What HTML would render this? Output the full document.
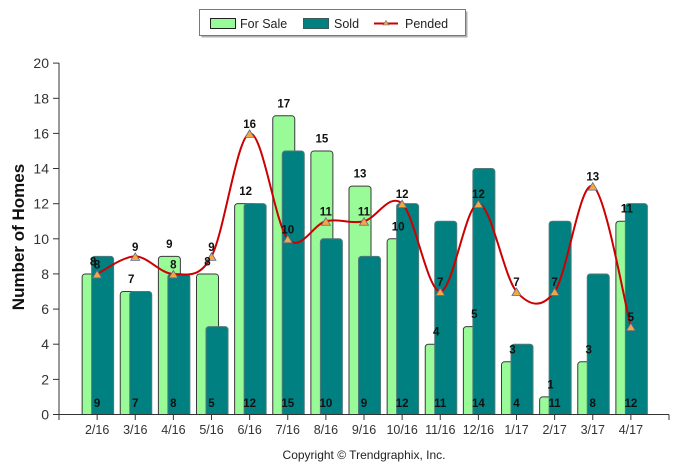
<!DOCTYPE html>
<html><head><meta charset="utf-8"><style>
html,body{margin:0;padding:0;background:#fff;}
svg{display:block;font-family:"Liberation Sans",sans-serif;}
</style></head><body>
<svg width="686" height="470" viewBox="0 0 686 470" xmlns="http://www.w3.org/2000/svg">
<defs><clipPath id="c"><rect x="0" y="0" width="686" height="414.5"/></clipPath></defs>
<rect width="686" height="470" fill="#fff"/>
<!-- legend -->
<rect x="201.5" y="11.5" width="266" height="26" fill="#b0b0b0"/>
<rect x="199.5" y="9.5" width="266" height="26" fill="#fff" stroke="#6a7a9a" stroke-width="1"/>
<rect x="210.5" y="18.5" width="25" height="10" fill="#98FB98" stroke="#222"/>
<text x="240" y="28" font-size="12.5" fill="#222">For Sale</text>
<rect x="303.5" y="18.5" width="25" height="10" fill="#008080" stroke="#3a5a5a"/>
<text x="334" y="28" font-size="12.5" fill="#222">Sold</text>
<line x1="374" y1="23.5" x2="398" y2="23.5" stroke="#cc0000" stroke-width="2"/>
<polygon points="386,20.5 383,25 389,25" fill="#F5A742" stroke="#5a6a8a" stroke-width="0.6"/>
<text x="405" y="28" font-size="12.5" fill="#222">Pended</text>
<!-- y label -->
<text transform="translate(24,237) rotate(-90)" text-anchor="middle" font-size="17" font-weight="bold" fill="#111">Number of Homes</text>
<!-- y ticks -->
<g font-size="14" fill="#333" text-anchor="end">
<text x="49" y="419.5">0</text>
<text x="49" y="384.4">2</text>
<text x="49" y="349.2">4</text>
<text x="49" y="314.1">6</text>
<text x="49" y="279">8</text>
<text x="49" y="243.8">10</text>
<text x="49" y="208.7">12</text>
<text x="49" y="173.5">14</text>
<text x="49" y="138.4">16</text>
<text x="49" y="103.3">18</text>
<text x="49" y="68.1">20</text>
</g>
<g stroke="#333" stroke-width="1">
<line x1="53" y1="414.5" x2="59" y2="414.5"/>
<line x1="53" y1="379.4" x2="59" y2="379.4"/>
<line x1="53" y1="344.2" x2="59" y2="344.2"/>
<line x1="53" y1="309.1" x2="59" y2="309.1"/>
<line x1="53" y1="273.9" x2="59" y2="273.9"/>
<line x1="53" y1="238.8" x2="59" y2="238.8"/>
<line x1="53" y1="203.7" x2="59" y2="203.7"/>
<line x1="53" y1="168.5" x2="59" y2="168.5"/>
<line x1="53" y1="133.4" x2="59" y2="133.4"/>
<line x1="53" y1="98.3" x2="59" y2="98.3"/>
<line x1="53" y1="63.1" x2="59" y2="63.1"/>
</g>
<!-- bars -->
<g clip-path="url(#c)">
<g fill="#98FB98" stroke="#3a3a3a" stroke-width="1">
<rect x="82.13" y="273.94" width="22" height="145.56" rx="3"/>
<rect x="120.25" y="291.51" width="22" height="127.99" rx="3"/>
<rect x="158.38" y="256.37" width="22" height="163.13" rx="3"/>
<rect x="196.5" y="273.94" width="22" height="145.56" rx="3"/>
<rect x="234.63" y="203.66" width="22" height="215.84" rx="3"/>
<rect x="272.75" y="115.81" width="22" height="303.69" rx="3"/>
<rect x="310.88" y="150.95" width="22" height="268.55" rx="3"/>
<rect x="349" y="186.09" width="22" height="233.41" rx="3"/>
<rect x="387.13" y="238.8" width="22" height="180.7" rx="3"/>
<rect x="425.25" y="344.22" width="22" height="75.28" rx="3"/>
<rect x="463.38" y="326.65" width="22" height="92.85" rx="3"/>
<rect x="501.5" y="361.79" width="22" height="57.71" rx="3"/>
<rect x="539.63" y="396.93" width="22" height="22.57" rx="3"/>
<rect x="577.75" y="361.79" width="22" height="57.71" rx="3"/>
<rect x="615.88" y="221.23" width="22" height="198.27" rx="3"/>
</g>
<g fill="#008080" stroke="#4f7a7a" stroke-width="1">
<rect x="91.63" y="256.37" width="22" height="163.13" rx="3"/>
<rect x="129.75" y="291.51" width="22" height="127.99" rx="3"/>
<rect x="167.88" y="273.94" width="22" height="145.56" rx="3"/>
<rect x="206" y="326.65" width="22" height="92.85" rx="3"/>
<rect x="244.13" y="203.66" width="22" height="215.84" rx="3"/>
<rect x="282.25" y="150.95" width="22" height="268.55" rx="3"/>
<rect x="320.38" y="238.8" width="22" height="180.7" rx="3"/>
<rect x="358.5" y="256.37" width="22" height="163.13" rx="3"/>
<rect x="396.63" y="203.66" width="22" height="215.84" rx="3"/>
<rect x="434.75" y="221.23" width="22" height="198.27" rx="3"/>
<rect x="472.88" y="168.52" width="22" height="250.98" rx="3"/>
<rect x="511" y="344.22" width="22" height="75.28" rx="3"/>
<rect x="549.13" y="221.23" width="22" height="198.27" rx="3"/>
<rect x="587.25" y="273.94" width="22" height="145.56" rx="3"/>
<rect x="625.38" y="203.66" width="22" height="215.84" rx="3"/>
</g>
</g>
<!-- axes -->
<g stroke="#333" stroke-width="1">
<line x1="59" y1="63" x2="59" y2="414.5"/>
<line x1="59" y1="414.5" x2="669" y2="414.5"/>
<line x1="59" y1="414.5" x2="59" y2="420"/>
<line x1="97.13" y1="414.5" x2="97.13" y2="420"/>
<line x1="135.25" y1="414.5" x2="135.25" y2="420"/>
<line x1="173.38" y1="414.5" x2="173.38" y2="420"/>
<line x1="211.5" y1="414.5" x2="211.5" y2="420"/>
<line x1="249.63" y1="414.5" x2="249.63" y2="420"/>
<line x1="287.75" y1="414.5" x2="287.75" y2="420"/>
<line x1="325.88" y1="414.5" x2="325.88" y2="420"/>
<line x1="364" y1="414.5" x2="364" y2="420"/>
<line x1="402.13" y1="414.5" x2="402.13" y2="420"/>
<line x1="440.25" y1="414.5" x2="440.25" y2="420"/>
<line x1="478.38" y1="414.5" x2="478.38" y2="420"/>
<line x1="516.5" y1="414.5" x2="516.5" y2="420"/>
<line x1="554.63" y1="414.5" x2="554.63" y2="420"/>
<line x1="592.75" y1="414.5" x2="592.75" y2="420"/>
<line x1="630.88" y1="414.5" x2="630.88" y2="420"/>
<line x1="669" y1="414.5" x2="669" y2="420"/>
</g>
<!-- x labels -->
<g font-size="12.5" fill="#333" text-anchor="middle">
<text x="97.13" y="434">2/16</text>
<text x="135.25" y="434">3/16</text>
<text x="173.38" y="434">4/16</text>
<text x="211.5" y="434">5/16</text>
<text x="249.63" y="434">6/16</text>
<text x="287.75" y="434">7/16</text>
<text x="325.88" y="434">8/16</text>
<text x="364" y="434">9/16</text>
<text x="402.13" y="434">10/16</text>
<text x="440.25" y="434">11/16</text>
<text x="478.38" y="434">12/16</text>
<text x="516.5" y="434">1/17</text>
<text x="554.63" y="434">2/17</text>
<text x="592.75" y="434">3/17</text>
<text x="630.88" y="434">4/17</text>
</g>
<!-- pended line -->
<path d="M97.13,273.94 C103.48,271.01 122.54,256.37 135.25,256.37 C147.96,256.37 160.67,273.94 173.38,273.94 C186.09,273.94 198.79,279.8 211.5,256.37 C224.21,232.94 236.92,136.31 249.63,133.38 C262.34,130.45 275.04,224.16 287.75,238.8 C300.46,253.44 313.16,224.16 325.88,221.23 C338.59,218.3 351.29,224.16 364,221.23 C376.71,218.3 389.41,191.95 402.13,203.66 C414.84,215.37 427.54,291.51 440.25,291.51 C452.96,291.51 465.67,203.66 478.38,203.66 C491.09,203.66 503.79,276.87 516.5,291.51 C529.21,306.15 541.92,309.08 554.63,291.51 C567.34,273.94 580.04,180.23 592.75,186.09 C605.46,191.95 624.53,303.22 630.88,326.65" fill="none" stroke="#cc0000" stroke-width="2"/>
<g fill="#F5A742" stroke="#5a6a8a" stroke-width="0.8">
<polygon points="97.13,270.44 92.63,277.94 101.63,277.94"/>
<polygon points="135.25,252.87 130.75,260.37 139.75,260.37"/>
<polygon points="173.38,270.44 168.88,277.94 177.88,277.94"/>
<polygon points="211.5,252.87 207,260.37 216,260.37"/>
<polygon points="249.63,129.88 245.13,137.38 254.13,137.38"/>
<polygon points="287.75,235.3 283.25,242.8 292.25,242.8"/>
<polygon points="325.88,217.73 321.38,225.23 330.38,225.23"/>
<polygon points="364,217.73 359.5,225.23 368.5,225.23"/>
<polygon points="402.13,200.16 397.63,207.66 406.63,207.66"/>
<polygon points="440.25,288.01 435.75,295.51 444.75,295.51"/>
<polygon points="478.38,200.16 473.88,207.66 482.88,207.66"/>
<polygon points="516.5,288.01 512,295.51 521,295.51"/>
<polygon points="554.63,288.01 550.13,295.51 559.13,295.51"/>
<polygon points="592.75,182.59 588.25,190.09 597.25,190.09"/>
<polygon points="630.88,323.15 626.38,330.65 635.38,330.65"/>
</g>
<!-- value labels -->
<g font-size="11.5" font-weight="bold" fill="#111" text-anchor="middle">
<!-- for sale -->
<text x="93.13" y="265.4">8</text>
<text x="131.25" y="283">7</text>
<text x="169.38" y="247.9">9</text>
<text x="207.5" y="265.4">8</text>
<text x="245.63" y="195.2">12</text>
<text x="283.75" y="107.3">17</text>
<text x="321.88" y="142.5">15</text>
<text x="360" y="177.6">13</text>
<text x="398.13" y="230.3">10</text>
<text x="436.25" y="335.7">4</text>
<text x="474.38" y="318.2">5</text>
<text x="512.5" y="353.3">3</text>
<text x="550.63" y="388.4">1</text>
<text x="588.75" y="353.3">3</text>
<text x="626.88" y="212.7">11</text>
<!-- pended -->
<text x="97.13" y="268.4">8</text>
<text x="135.25" y="250.9">9</text>
<text x="173.38" y="268.4">8</text>
<text x="211.5" y="250.9">9</text>
<text x="249.63" y="127.9">16</text>
<text x="287.75" y="233.3">10</text>
<text x="325.88" y="215.7">11</text>
<text x="364" y="215.7">11</text>
<text x="402.13" y="198.2">12</text>
<text x="440.25" y="286">7</text>
<text x="478.38" y="198.2">12</text>
<text x="516.5" y="286">7</text>
<text x="554.63" y="286">7</text>
<text x="592.75" y="180.6">13</text>
<text x="630.88" y="321.2">5</text>
<!-- sold -->
<text x="97.13" y="407">9</text>
<text x="135.25" y="407">7</text>
<text x="173.38" y="407">8</text>
<text x="211.5" y="407">5</text>
<text x="249.63" y="407">12</text>
<text x="287.75" y="407">15</text>
<text x="325.88" y="407">10</text>
<text x="364" y="407">9</text>
<text x="402.13" y="407">12</text>
<text x="440.25" y="407">11</text>
<text x="478.38" y="407">14</text>
<text x="516.5" y="407">4</text>
<text x="554.63" y="407">11</text>
<text x="592.75" y="407">8</text>
<text x="630.88" y="407">12</text>
</g>
<text x="364" y="459" font-size="12" fill="#222" text-anchor="middle">Copyright © Trendgraphix, Inc.</text>
</svg>
</body></html>
